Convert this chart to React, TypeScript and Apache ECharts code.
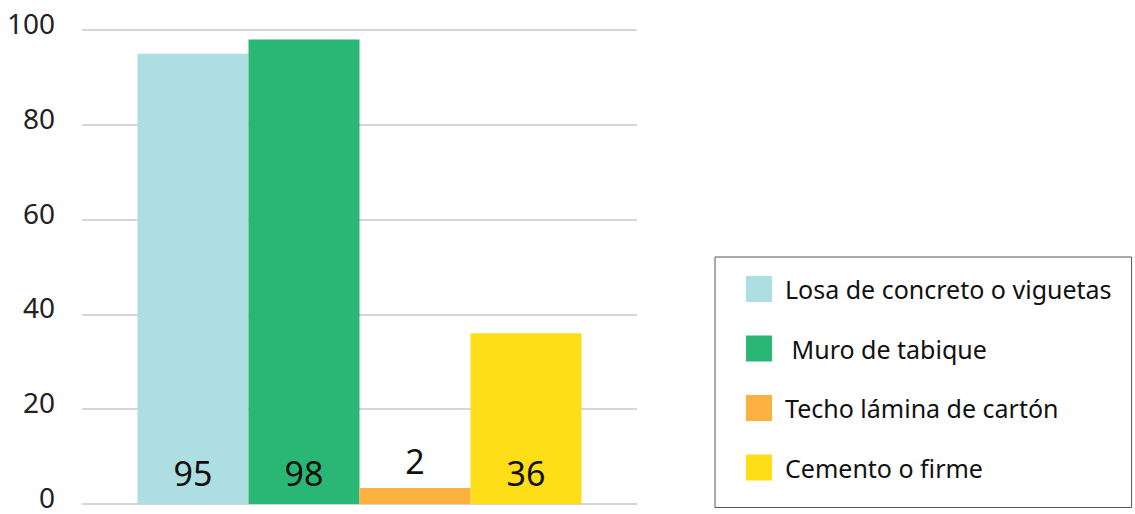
import React, { useEffect, useRef } from "react";
import * as echarts from "echarts";

const categories = [""];
const seriesNames = ["Losa de concreto o viguetas", " Muro de tabique", "Techo lámina de cartón", "Cemento o firme"];
const seriesValues = [95, 98, 2, 36];
const seriesColors = ["#acdee2", "#2ab674", "#fbb040", "#fede17"];
const yTicks = { min: 0, max: 100, interval: 20 };

export default function App() {
  const ref = useRef<HTMLDivElement>(null);
  useEffect(() => {
    if (!ref.current) return;
    const chart = echarts.init(ref.current, null, { renderer: "svg" });
    const font = "'Noto Sans', sans-serif";
    chart.setOption({
      animation: false,
      textStyle: { fontFamily: font },
      grid: { left: 82, right: 498, top: 30, bottom: 10 },
      xAxis: {
        type: "category",
        data: categories,
        axisLine: { show: false },
        axisTick: { show: false },
        axisLabel: { show: false },
      },
      yAxis: {
        type: "value",
        min: yTicks.min,
        max: yTicks.max,
        interval: yTicks.interval,
        axisLine: { show: false },
        axisTick: { show: false },
        axisLabel: {
          fontSize: 28,
          lineHeight: 14,
          verticalAlign: "bottom",
          color: "#222",
          margin: 27,
          fontFamily: font,
        },
        splitLine: { lineStyle: { color: "#d6d6d6", width: 2 } },
      },
      legend: {
        orient: "vertical",
        left: 715,
        top: 257,
        padding: [19, 20, 27, 31],
        borderColor: "#555",
        borderWidth: 1,
        icon: "rect",
        itemWidth: 26,
        itemHeight: 26,
        itemGap: 33.5,
        textStyle: { fontSize: 25, color: "#111", fontFamily: font, padding: [0, 0, 0, 8] },
        data: seriesNames,
      },
      series: seriesNames.map((name, i) => ({
        name,
        type: "bar",
        data: [seriesValues[i]],
        barGap: "0%",
        barCategoryGap: "20%",
        barMinHeight: i === 2 ? 16 : 0,
        itemStyle: { color: seriesColors[i] },
        label: {
          show: true,
          position: i === 2 ? "top" : "insideBottom",
          distance: i === 2 ? 10 : 14,
          fontSize: 34,
          color: "#111",
          fontFamily: font,
        },
      })),
    });
    return () => chart.dispose();
  }, []);
  return <div ref={ref} style={{ width: 1135, height: 514, position: "absolute", left: 0, top: 0 }} />;
}
